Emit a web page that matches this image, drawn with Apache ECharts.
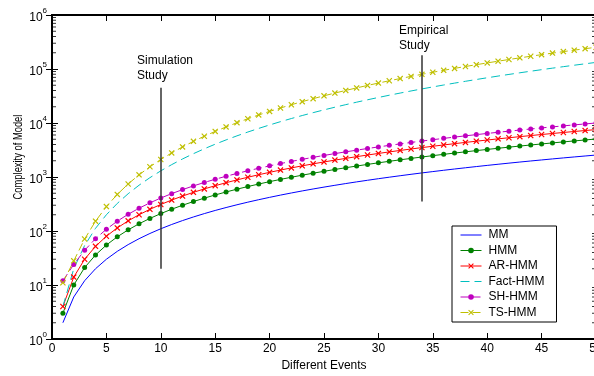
<!DOCTYPE html>
<html>
<head>
<meta charset="utf-8">
<script src="https://cdn.jsdelivr.net/npm/echarts@6/dist/echarts.min.js"></script>
<style>
html, body { margin: 0; padding: 0; background: #fff; }
#main { width: 594px; height: 376px; }
</style>
</head>
<body>
<div id="main"></div>
<script>
// number of different events (x)
var events = [1,2,3,4,5,6,7,8,9,10,11,12,13,14,15,16,17,18,19,20,21,22,23,24,25,26,27,28,29,30,31,32,33,34,35,36,37,38,39,40,41,42,43,44,45,46,47,48,49,50];

// complexity of each model
var mm = [2,6,12,20,30,42,56,72,90,110,132,156,182,210,240,272,306,342,380,420,462,506,552,600,650,702,756,812,870,930,992,1056,1122,1190,1260,1332,1406,1482,1560,1640,1722,1806,1892,1980,2070,2162,2256,2352,2450,2550];
var hmm = [3,10,21,36,55,78,105,136,171,210,253,300,351,406,465,528,595,666,741,820,903,990,1081,1176,1275,1378,1485,1596,1711,1830,1953,2080,2211,2346,2485,2628,2775,2926,3081,3240,3403,3570,3741,3916,4095,4278,4465,4656,4851,5050];
var arHmm = [4,14,30,52,80,114,154,200,252,310,374,444,520,602,690,784,884,990,1102,1220,1344,1474,1610,1752,1900,2054,2214,2380,2552,2730,2914,3104,3300,3502,3710,3924,4144,4370,4602,4840,5084,5334,5590,5852,6120,6394,6674,6960,7252,7550];
var factHmm = [4,20,54,112,200,324,490,704,972,1300,1694,2160,2704,3332,4050,4864,5780,6804,7942,9200,10584,12100,13754,15552,17500,19604,21870,24304,26912,29700,32674,35840,39204,42772,46550,50544,54760,59204,63882,68800,73964,79380,85054,90992,97200,103684,110450,117504,124852,132500];
var shHmm = [12,24,44,72,108,152,204,264,332,408,492,584,684,792,908,1032,1164,1304,1452,1608,1772,1944,2124,2312,2508,2712,2924,3144,3372,3608,3852,4104,4364,4632,4908,5192,5484,5784,6092,6408,6732,7064,7404,7752,8108,8472,8844,9224,9612,10008];
var tsHmm = [11,28,71,152,283,476,743,1096,1547,2108,2791,3608,4571,5692,6983,8456,10123,11996,14087,16408,18971,21788,24871,28232,31883,35836,40103,44696,49627,54908,60551,66568,72971,79772,86983,94616,102683,111196,120167,129608,139531,149948,160871,172312,184283,196796,209863,223496,237707,252508];

var names = ['MM', 'HMM', 'AR-HMM', 'Fact-HMM', 'SH-HMM', 'TS-HMM'];
var yExponents = ['0', '1', '2', '3', '4', '5', '6'];
var minorMantissa = [2, 3, 4, 5, 6, 7, 8, 9];

// study markers: [x, y from, y to]
var simLine = [10, 20, 45000];
var empLine = [34, 350, 180000];

var FONT = 'Liberation Sans, Arial, sans-serif';
var crossPath = 'path://M0,1.4L1.4,0L5,3.6L8.6,0L10,1.4L6.4,5L10,8.6L8.6,10L5,6.4L1.4,10L0,8.6L3.6,5Z';

function pairs(ys) {
  var out = [];
  for (var i = 0; i < events.length; i++) {
    out.push([events[i], ys[i]]);
  }
  return out;
}

// minor ticks of the log axis at 2..9 x 10^k
function minorTicks(x) {
  var out = [];
  for (var k = 0; k < yExponents.length - 1; k++) {
    for (var j = 0; j < minorMantissa.length; j++) {
      out.push([x, minorMantissa[j] * Math.pow(10, k)]);
    }
  }
  return out;
}

// legend entries; series without markers get a hidden legend symbol
var hideSymbol = { color: 'rgba(0,0,0,0)', borderWidth: 0, opacity: 0 };
var legendData = [
  { name: names[0], itemStyle: hideSymbol },
  { name: names[1] },
  { name: names[2] },
  { name: names[3], itemStyle: hideSymbol },
  { name: names[4] },
  { name: names[5] }
];

var myChart = echarts.init(document.getElementById('main'), null, { renderer: 'canvas' });

var option = {
  animation: false,
  backgroundColor: '#fff',
  textStyle: { fontFamily: FONT },
  grid: { left: 52, top: 15, width: 544, height: 324, containLabel: false, outerBoundsMode: 'none' },
  legend: {
    data: legendData,
    orient: 'vertical',
    left: 452,
    top: 226,
    padding: [3, 12, 3.5, 8],
    itemWidth: 21,
    itemHeight: 7,
    itemGap: 3.5,
    borderColor: '#000',
    borderWidth: 1,
    backgroundColor: '#fff',
    lineStyle: { width: 1 },
    textStyle: { fontSize: 12, lineHeight: 12, color: '#000', fontFamily: FONT, padding: [0, 0, 0, 2] }
  },
  xAxis: [{
    type: 'value',
    min: 0,
    max: 50,
    interval: 5,
    name: 'Different Events',
    nameLocation: 'middle',
    nameGap: 20,
    nameTextStyle: { fontSize: 12, color: '#000', fontFamily: FONT },
    axisLine: { lineStyle: { color: '#000', width: 2 } },
    axisTick: { inside: true, length: 6, lineStyle: { color: '#000' } },
    axisLabel: { fontSize: 12, color: '#000', margin: 4, fontFamily: FONT, showMaxLabel: true },
    splitLine: { show: false }
  }, {
    type: 'value',
    position: 'top',
    min: 0,
    max: 50,
    interval: 5,
    axisLine: { lineStyle: { color: '#000', width: 2 } },
    axisTick: { inside: true, length: 6, lineStyle: { color: '#000' } },
    axisLabel: { show: false },
    splitLine: { show: false }
  }],
  yAxis: [{
    type: 'log',
    logBase: 10,
    min: 1,
    max: 1000000,
    splitNumber: 6,
    axisLine: { show: true, lineStyle: { color: '#000', width: 2 } },
    axisTick: { show: true, inside: true, length: 6, lineStyle: { color: '#000' } },
    axisLabel: {
      margin: 5,
      formatter: function (v, i) {
        return '{b|10}{s|' + yExponents[i] + '}';
      },
      rich: {
        b: { fontSize: 12, color: '#000', fontFamily: FONT, lineHeight: 12, verticalAlign: 'bottom' },
        s: { fontSize: 8, color: '#000', fontFamily: FONT, padding: [0, 0, 9, 0], verticalAlign: 'bottom' }
      }
    },
    splitLine: { show: false }
  }, {
    type: 'log',
    logBase: 10,
    position: 'right',
    min: 1,
    max: 1000000,
    splitNumber: 6,
    axisLine: { show: true, lineStyle: { color: '#000', width: 2 } },
    axisTick: { show: true, inside: true, length: 6, lineStyle: { color: '#000' } },
    axisLabel: { show: false },
    splitLine: { show: false }
  }],
  graphic: [{
    type: 'text',
    x: 19,
    y: 157,
    rotation: Math.PI / 2,
    scaleX: 0.78,
    style: { text: 'Complexity of Model', font: '12px ' + FONT, fill: '#000', textAlign: 'center', textVerticalAlign: 'middle' }
  }, {
    type: 'text',
    x: 137,
    y: 53.5,
    style: { text: 'Simulation\nStudy', font: '12px ' + FONT, fill: '#000', lineHeight: 15, textVerticalAlign: 'top' }
  }, {
    type: 'text',
    x: 399,
    y: 23.5,
    style: { text: 'Empirical\nStudy', font: '12px ' + FONT, fill: '#000', lineHeight: 15, textVerticalAlign: 'top' }
  }],
  series: [
    {
      name: names[0],
      type: 'line',
      data: pairs(mm),
      symbol: 'none',
      itemStyle: { color: '#0000ff' },
      lineStyle: { color: '#0000ff', width: 1 },
      markLine: {
        silent: true,
        symbol: ['none', 'none'],
        label: { show: false },
        lineStyle: { color: '#333', width: 1.5, type: 'solid' },
        data: [
          [{ coord: [simLine[0], simLine[1]] }, { coord: [simLine[0], simLine[2]] }],
          [{ coord: [empLine[0], empLine[1]] }, { coord: [empLine[0], empLine[2]] }]
        ]
      }
    },
    {
      name: names[1],
      type: 'line',
      data: pairs(hmm),
      symbol: 'circle',
      symbolSize: 5,
      itemStyle: { color: '#008000' },
      lineStyle: { color: '#008000', width: 1 }
    },
    {
      name: names[2],
      type: 'line',
      data: pairs(arHmm),
      symbol: crossPath,
      symbolSize: 6,
      itemStyle: { color: '#ff0000' },
      lineStyle: { color: '#ff0000', width: 1 }
    },
    {
      name: names[3],
      type: 'line',
      data: pairs(factHmm),
      symbol: 'none',
      itemStyle: { color: '#00bfbf' },
      lineStyle: { color: '#00bfbf', width: 1, type: [9, 5] }
    },
    {
      name: names[4],
      type: 'line',
      data: pairs(shHmm),
      symbol: 'circle',
      symbolSize: 5,
      itemStyle: { color: '#bf00bf' },
      lineStyle: { color: '#bf00bf', width: 1, type: [8, 4] }
    },
    {
      name: names[5],
      type: 'line',
      data: pairs(tsHmm),
      symbol: crossPath,
      symbolSize: 6,
      itemStyle: { color: '#bfbf00' },
      lineStyle: { color: '#bfbf00', width: 1, type: [8, 4] }
    },
    // minor ticks, left and right
    {
      type: 'scatter',
      silent: true,
      data: minorTicks(0),
      symbol: 'rect',
      symbolSize: [4, 1],
      symbolOffset: [2, 0],
      itemStyle: { color: '#000' },
      z: 1
    },
    {
      type: 'scatter',
      silent: true,
      data: minorTicks(50),
      symbol: 'rect',
      symbolSize: [4, 1],
      symbolOffset: [-2, 0],
      itemStyle: { color: '#000' },
      z: 1
    }
  ]
};

myChart.setOption(option);
</script>
</body>
</html>
